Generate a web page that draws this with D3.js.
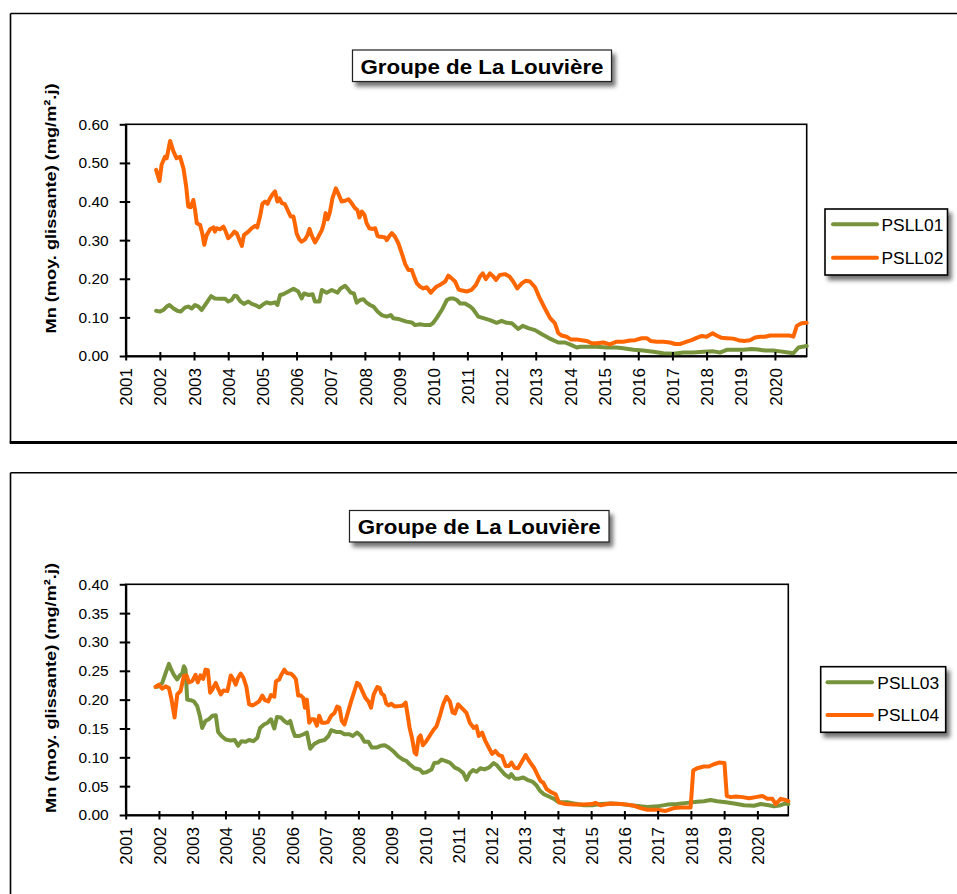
<!DOCTYPE html>
<html><head><meta charset="utf-8">
<script src="https://cdn.jsdelivr.net/npm/d3@7/dist/d3.min.js"></script>
<style>
body{margin:0;background:#fff}
svg{display:block}
text{font-family:"Liberation Sans",Arial,Helvetica,sans-serif;fill:#000}
</style>
</head><body>
<svg id="c" width="957" height="894"></svg>
<script>
// ---------------- DATA ----------------
const titleText = "Groupe de La Louvière";
const yLabelText = "Mn  (moy. glissante) (mg/m².j)";
const yearTicks = d3.range(2001, 2021);
const xEnd = 2020.93;
const topYTicks = [0, 0.1, 0.2, 0.3, 0.4, 0.5, 0.6];
const bottomYTicks = [0, 0.05, 0.1, 0.15, 0.2, 0.25, 0.3, 0.35, 0.4];
const topSeriesNames = ["PSLL01", "PSLL02"];
const bottomSeriesNames = ["PSLL03", "PSLL04"];

const psll01 = [[2001.89,0.117],[2002.00,0.115],[2002.10,0.119],[2002.20,0.128],[2002.28,0.132],[2002.40,0.123],[2002.51,0.117],[2002.61,0.115],[2002.74,0.126],[2002.83,0.128],[2002.93,0.123],[2003.03,0.132],[2003.13,0.128],[2003.22,0.119],[2003.32,0.132],[2003.42,0.145],[2003.50,0.155],[2003.61,0.149],[2003.76,0.148],[2003.91,0.148],[2004.00,0.141],[2004.10,0.145],[2004.18,0.156],[2004.25,0.155],[2004.35,0.142],[2004.46,0.135],[2004.59,0.141],[2004.69,0.135],[2004.79,0.132],[2004.91,0.126],[2005.03,0.134],[2005.13,0.139],[2005.24,0.136],[2005.37,0.139],[2005.44,0.132],[2005.52,0.158],[2005.61,0.160],[2005.76,0.167],[2005.91,0.174],[2006.05,0.167],[2006.15,0.149],[2006.22,0.162],[2006.35,0.158],[2006.47,0.160],[2006.54,0.141],[2006.67,0.141],[2006.74,0.171],[2006.88,0.164],[2007.03,0.171],[2007.20,0.164],[2007.29,0.175],[2007.42,0.182],[2007.49,0.175],[2007.59,0.164],[2007.68,0.162],[2007.76,0.138],[2007.86,0.145],[2007.96,0.147],[2008.05,0.138],[2008.15,0.132],[2008.25,0.128],[2008.37,0.115],[2008.49,0.106],[2008.64,0.102],[2008.76,0.106],[2008.83,0.098],[2008.98,0.096],[2009.08,0.093],[2009.22,0.089],[2009.37,0.087],[2009.47,0.080],[2009.61,0.082],[2009.76,0.080],[2009.91,0.080],[2010.00,0.086],[2010.10,0.098],[2010.25,0.119],[2010.40,0.145],[2010.49,0.149],[2010.59,0.149],[2010.69,0.145],[2010.79,0.136],[2010.93,0.136],[2011.08,0.128],[2011.17,0.121],[2011.32,0.102],[2011.47,0.098],[2011.66,0.093],[2011.86,0.086],[2012.00,0.091],[2012.15,0.086],[2012.30,0.085],[2012.49,0.070],[2012.62,0.078],[2012.78,0.072],[2012.98,0.067],[2013.17,0.057],[2013.37,0.047],[2013.51,0.041],[2013.66,0.035],[2013.86,0.035],[2014.05,0.028],[2014.20,0.022],[2014.30,0.024],[2014.49,0.024],[2014.78,0.024],[2015.08,0.022],[2015.37,0.022],[2015.56,0.020],[2015.86,0.016],[2016.15,0.014],[2016.44,0.011],[2016.73,0.007],[2017.03,0.006],[2017.32,0.009],[2017.61,0.009],[2017.91,0.011],[2018.20,0.012],[2018.39,0.009],[2018.59,0.016],[2018.78,0.016],[2019.08,0.016],[2019.32,0.018],[2019.51,0.017],[2019.71,0.014],[2019.95,0.014],[2020.15,0.012],[2020.39,0.009],[2020.54,0.007],[2020.69,0.022],[2020.93,0.026]];

const psll02 = [[2001.89,0.482],[2001.99,0.453],[2002.05,0.495],[2002.15,0.516],[2002.20,0.512],[2002.30,0.557],[2002.40,0.529],[2002.49,0.512],[2002.59,0.516],[2002.69,0.486],[2002.77,0.439],[2002.83,0.387],[2002.90,0.385],[2002.98,0.404],[2003.03,0.378],[2003.08,0.344],[2003.18,0.339],[2003.24,0.318],[2003.30,0.288],[2003.37,0.313],[2003.47,0.328],[2003.57,0.333],[2003.61,0.322],[2003.66,0.331],[2003.76,0.328],[2003.86,0.335],[2003.91,0.326],[2004.00,0.305],[2004.10,0.313],[2004.18,0.322],[2004.25,0.318],[2004.33,0.300],[2004.40,0.285],[2004.46,0.313],[2004.59,0.322],[2004.69,0.331],[2004.79,0.337],[2004.85,0.333],[2004.93,0.361],[2005.00,0.394],[2005.08,0.400],[2005.15,0.394],[2005.22,0.408],[2005.32,0.421],[2005.37,0.426],[2005.44,0.400],[2005.50,0.408],[2005.57,0.396],[2005.66,0.393],[2005.76,0.374],[2005.83,0.361],[2005.91,0.361],[2005.96,0.339],[2006.00,0.318],[2006.08,0.302],[2006.15,0.296],[2006.25,0.302],[2006.32,0.313],[2006.38,0.329],[2006.44,0.313],[2006.54,0.294],[2006.64,0.309],[2006.74,0.326],[2006.80,0.344],[2006.85,0.370],[2006.91,0.354],[2006.98,0.374],[2007.05,0.408],[2007.15,0.434],[2007.22,0.421],[2007.32,0.400],[2007.42,0.402],[2007.52,0.406],[2007.61,0.396],[2007.71,0.383],[2007.78,0.378],[2007.84,0.359],[2007.91,0.374],[2007.99,0.365],[2008.05,0.344],[2008.13,0.331],[2008.23,0.329],[2008.30,0.331],[2008.37,0.311],[2008.42,0.309],[2008.49,0.309],[2008.59,0.307],[2008.64,0.300],[2008.72,0.311],[2008.79,0.318],[2008.88,0.309],[2008.98,0.292],[2009.08,0.266],[2009.18,0.238],[2009.27,0.223],[2009.37,0.223],[2009.44,0.206],[2009.52,0.188],[2009.61,0.180],[2009.71,0.175],[2009.81,0.178],[2009.93,0.164],[2010.00,0.171],[2010.10,0.180],[2010.20,0.184],[2010.35,0.193],[2010.44,0.208],[2010.54,0.201],[2010.64,0.193],[2010.74,0.173],[2010.78,0.171],[2010.98,0.167],[2011.12,0.171],[2011.25,0.184],[2011.37,0.206],[2011.45,0.214],[2011.54,0.199],[2011.66,0.214],[2011.76,0.206],[2011.84,0.197],[2011.95,0.210],[2012.10,0.212],[2012.23,0.206],[2012.34,0.193],[2012.46,0.175],[2012.59,0.188],[2012.71,0.195],[2012.83,0.193],[2012.98,0.178],[2013.12,0.149],[2013.27,0.123],[2013.42,0.098],[2013.56,0.085],[2013.66,0.059],[2013.76,0.053],[2013.90,0.050],[2014.02,0.043],[2014.20,0.043],[2014.34,0.041],[2014.49,0.039],[2014.64,0.033],[2014.78,0.033],[2014.98,0.035],[2015.17,0.030],[2015.37,0.037],[2015.56,0.037],[2015.76,0.040],[2015.91,0.041],[2016.10,0.046],[2016.25,0.046],[2016.36,0.039],[2016.54,0.037],[2016.73,0.037],[2016.93,0.035],[2017.08,0.031],[2017.22,0.031],[2017.42,0.037],[2017.56,0.041],[2017.71,0.047],[2017.86,0.052],[2018.00,0.050],[2018.18,0.059],[2018.29,0.053],[2018.44,0.047],[2018.59,0.046],[2018.78,0.045],[2018.93,0.041],[2019.10,0.039],[2019.27,0.041],[2019.42,0.048],[2019.56,0.050],[2019.71,0.050],[2019.86,0.053],[2020.05,0.053],[2020.25,0.053],[2020.44,0.053],[2020.54,0.050],[2020.64,0.078],[2020.78,0.085],[2020.93,0.086]];

const psll03 = [[2001.90,0.222],[2002.00,0.223],[2002.10,0.229],[2002.20,0.246],[2002.30,0.262],[2002.37,0.252],[2002.45,0.243],[2002.55,0.235],[2002.63,0.242],[2002.70,0.245],[2002.75,0.258],[2002.80,0.252],[2002.85,0.200],[2002.95,0.199],[2003.05,0.197],[2003.15,0.189],[2003.23,0.172],[2003.30,0.151],[2003.40,0.163],[2003.50,0.166],[2003.61,0.172],[2003.71,0.173],[2003.78,0.144],[2003.88,0.137],[2004.01,0.131],[2004.16,0.129],[2004.28,0.130],[2004.38,0.120],[2004.48,0.128],[2004.61,0.127],[2004.71,0.130],[2004.84,0.128],[2004.96,0.134],[2005.04,0.151],[2005.16,0.157],[2005.27,0.160],[2005.37,0.166],[2005.47,0.150],[2005.55,0.170],[2005.67,0.169],[2005.77,0.163],[2005.87,0.159],[2005.95,0.163],[2006.02,0.148],[2006.09,0.137],[2006.22,0.137],[2006.35,0.140],[2006.45,0.143],[2006.55,0.115],[2006.67,0.123],[2006.82,0.128],[2006.98,0.130],[2007.10,0.137],[2007.18,0.147],[2007.33,0.144],[2007.46,0.144],[2007.58,0.140],[2007.73,0.140],[2007.83,0.137],[2007.96,0.143],[2008.08,0.137],[2008.18,0.127],[2008.30,0.127],[2008.40,0.117],[2008.54,0.117],[2008.67,0.120],[2008.79,0.121],[2008.91,0.117],[2009.04,0.111],[2009.19,0.102],[2009.34,0.096],[2009.44,0.094],[2009.54,0.088],[2009.69,0.081],[2009.84,0.079],[2009.94,0.073],[2010.04,0.074],[2010.20,0.079],[2010.28,0.090],[2010.40,0.091],[2010.50,0.096],[2010.65,0.093],[2010.75,0.091],[2010.90,0.082],[2011.02,0.079],[2011.15,0.073],[2011.25,0.061],[2011.35,0.073],[2011.45,0.078],[2011.55,0.075],[2011.67,0.081],[2011.79,0.079],[2011.92,0.082],[2012.07,0.090],[2012.17,0.086],[2012.27,0.079],[2012.39,0.071],[2012.53,0.065],[2012.60,0.071],[2012.70,0.063],[2012.83,0.063],[2012.96,0.065],[2013.08,0.061],[2013.23,0.058],[2013.36,0.051],[2013.46,0.042],[2013.58,0.036],[2013.73,0.032],[2013.88,0.028],[2014.03,0.022],[2014.28,0.022],[2014.48,0.020],[2014.78,0.017],[2015.03,0.017],[2015.28,0.019],[2015.58,0.020],[2015.89,0.019],[2016.19,0.017],[2016.49,0.015],[2016.69,0.014],[2016.99,0.015],[2017.29,0.018],[2017.59,0.019],[2017.89,0.021],[2018.19,0.023],[2018.39,0.024],[2018.59,0.026],[2018.79,0.024],[2019.05,0.022],[2019.30,0.020],[2019.60,0.017],[2019.90,0.016],[2020.10,0.019],[2020.35,0.017],[2020.50,0.015],[2020.70,0.017],[2020.85,0.020],[2020.93,0.019]];

const psll04 = [[2001.90,0.222],[2002.00,0.226],[2002.10,0.219],[2002.20,0.223],[2002.30,0.220],[2002.37,0.203],[2002.47,0.169],[2002.55,0.209],[2002.65,0.215],[2002.75,0.241],[2002.83,0.242],[2002.90,0.230],[2003.00,0.232],[2003.10,0.243],[2003.17,0.230],[2003.25,0.242],[2003.33,0.236],[2003.40,0.252],[2003.47,0.251],[2003.54,0.212],[2003.61,0.218],[2003.71,0.229],[2003.78,0.219],[2003.86,0.209],[2003.94,0.216],[2004.06,0.215],[2004.16,0.242],[2004.24,0.235],[2004.31,0.226],[2004.38,0.238],[2004.46,0.245],[2004.54,0.238],[2004.63,0.222],[2004.71,0.192],[2004.81,0.190],[2004.91,0.193],[2005.01,0.197],[2005.11,0.207],[2005.19,0.199],[2005.29,0.197],[2005.37,0.208],[2005.47,0.205],[2005.52,0.232],[2005.62,0.235],[2005.67,0.242],[2005.77,0.252],[2005.85,0.246],[2005.97,0.245],[2006.05,0.241],[2006.12,0.235],[2006.19,0.207],[2006.27,0.207],[2006.34,0.203],[2006.39,0.186],[2006.45,0.200],[2006.52,0.160],[2006.59,0.166],[2006.67,0.166],[2006.75,0.155],[2006.82,0.172],[2006.90,0.160],[2007.00,0.160],[2007.08,0.161],[2007.18,0.172],[2007.28,0.177],[2007.36,0.188],[2007.43,0.186],[2007.50,0.163],[2007.58,0.157],[2007.68,0.177],[2007.78,0.197],[2007.88,0.215],[2007.96,0.229],[2008.03,0.226],[2008.13,0.213],[2008.21,0.203],[2008.30,0.197],[2008.38,0.186],[2008.46,0.209],[2008.57,0.222],[2008.64,0.220],[2008.69,0.211],[2008.77,0.207],[2008.84,0.193],[2008.91,0.190],[2008.99,0.193],[2009.09,0.188],[2009.24,0.189],[2009.34,0.190],[2009.42,0.195],[2009.47,0.177],[2009.54,0.151],[2009.61,0.134],[2009.69,0.108],[2009.74,0.105],[2009.81,0.134],[2009.87,0.138],[2009.94,0.121],[2010.04,0.128],[2010.14,0.137],[2010.25,0.147],[2010.35,0.154],[2010.45,0.172],[2010.55,0.192],[2010.65,0.205],[2010.75,0.197],[2010.83,0.178],[2010.90,0.176],[2011.00,0.192],[2011.15,0.183],[2011.25,0.177],[2011.35,0.160],[2011.47,0.151],[2011.55,0.154],[2011.62,0.137],[2011.72,0.143],[2011.82,0.128],[2011.92,0.117],[2012.02,0.106],[2012.12,0.111],[2012.22,0.104],[2012.32,0.102],[2012.43,0.085],[2012.53,0.085],[2012.60,0.091],[2012.70,0.082],[2012.80,0.081],[2012.93,0.094],[2013.03,0.104],[2013.13,0.094],[2013.28,0.082],[2013.40,0.068],[2013.48,0.059],[2013.56,0.056],[2013.66,0.045],[2013.78,0.040],[2013.93,0.036],[2014.03,0.022],[2014.23,0.019],[2014.48,0.018],[2014.78,0.018],[2015.03,0.019],[2015.13,0.021],[2015.28,0.017],[2015.58,0.020],[2015.89,0.019],[2016.09,0.018],[2016.29,0.016],[2016.49,0.012],[2016.69,0.009],[2016.99,0.009],[2017.24,0.007],[2017.49,0.012],[2017.69,0.013],[2017.99,0.013],[2018.01,0.028],[2018.07,0.077],[2018.19,0.081],[2018.39,0.084],[2018.54,0.084],[2018.69,0.088],[2018.84,0.091],[2019.01,0.090],[2019.08,0.033],[2019.20,0.031],[2019.35,0.032],[2019.55,0.031],[2019.75,0.029],[2019.95,0.031],[2020.15,0.033],[2020.30,0.028],[2020.45,0.028],[2020.55,0.019],[2020.70,0.028],[2020.85,0.026],[2020.93,0.024]];

const GREEN = "#77933C", ORANGE = "#FF6600";

// ---------------- DRAW ----------------
const svg = d3.select("#c");
const defs = svg.append("defs");
const f = defs.append("filter").attr("id","shadow").attr("x","-20%").attr("y","-20%").attr("width","150%").attr("height","180%");
f.append("feDropShadow").attr("dx",3.5).attr("dy",4.5).attr("stdDeviation",2.2).attr("flood-color","#000").attr("flood-opacity",0.55);

function drawChart(cfg) {
  const g = svg.append("g");
  // outer frame
  g.append("line").attr("x1",cfg.frame.x).attr("x2",957).attr("y1",cfg.frame.y).attr("y2",cfg.frame.y).attr("stroke","#000").attr("stroke-width",1.6);
  g.append("line").attr("x1",cfg.frame.x).attr("x2",cfg.frame.x).attr("y1",cfg.frame.y).attr("y2",cfg.frame.bottom || 894).attr("stroke","#000").attr("stroke-width",1.6);
  if (cfg.frame.bottom) {
    g.append("line").attr("x1",cfg.frame.x-0.8).attr("x2",957).attr("y1",cfg.frame.bottom).attr("y2",cfg.frame.bottom).attr("stroke","#000").attr("stroke-width",3);
  }

  const p = cfg.plot;
  const x = d3.scaleLinear().domain([2001, xEnd]).range([p.l, p.r]);
  const y = d3.scaleLinear().domain([0, cfg.yMax]).range([p.b, p.t]);

  // plot border (top/right)
  g.append("rect").attr("x",p.l).attr("y",p.t).attr("width",p.r-p.l).attr("height",p.b-p.t)
    .attr("fill","#fff").attr("stroke","#000").attr("stroke-width",1.6);

  // series
  const line = d3.line().x(d => x(d[0])).y(d => y(d[1]));
  cfg.series.forEach(s => {
    g.append("path").datum(s.data).attr("d", line).attr("fill","none")
      .attr("stroke", s.color).attr("stroke-width",4).attr("stroke-linejoin","round").attr("stroke-linecap","round");
  });

  // y axis
  const ya = g.append("g").attr("transform",`translate(${p.l},0)`)
    .call(d3.axisLeft(y).tickValues(cfg.yTicks).tickFormat(d3.format(".2f")).tickSizeInner(6).tickSizeOuter(0).tickPadding(11));
  ya.select(".domain").attr("stroke","#000").attr("stroke-width",2.2);
  ya.selectAll(".tick line").attr("stroke","#000").attr("stroke-width",2);
  ya.selectAll(".tick").filter(d => d > 0 && d < cfg.yMax).append("line").attr("x1",0).attr("x2",4.5).attr("stroke","#000").attr("stroke-width",2);
  ya.selectAll(".tick text").attr("font-size","15.5px").attr("font-family",'"Liberation Sans",Arial,sans-serif').attr("fill","#000");

  // x axis
  const xa = g.append("g").attr("transform",`translate(0,${p.b})`)
    .call(d3.axisBottom(x).tickValues(yearTicks).tickFormat(d => String(d)).tickSizeInner(4.5).tickSizeOuter(0));
  xa.select(".domain").attr("stroke","#000").attr("stroke-width",2.2);
  xa.selectAll(".tick line").attr("stroke","#000").attr("stroke-width",2);
  xa.selectAll(".tick").append("line").attr("y1",0).attr("y2",-4).attr("stroke","#000").attr("stroke-width",2);
  xa.selectAll(".tick text").attr("transform","rotate(-90)").attr("x",-12).attr("y",0).attr("dy","0.36em")
    .attr("text-anchor","end").attr("font-size","17px").attr("font-family",'"Liberation Sans",Arial,sans-serif').attr("fill","#000");

  // y label
  g.append("text").attr("transform",`translate(${cfg.yLabel.x},${cfg.yLabel.cy}) rotate(-90)`)
    .attr("text-anchor","middle").attr("font-weight","bold").attr("font-size","15.5px")
    .attr("textLength", cfg.yLabel.len).attr("lengthAdjust","spacingAndGlyphs").text(yLabelText);

  // title
  const t = cfg.title;
  g.append("rect").attr("x",t.x).attr("y",t.y).attr("width",t.w).attr("height",t.h)
    .attr("fill","#fff").attr("stroke","#222").attr("stroke-width",1.2).attr("filter","url(#shadow)");
  g.append("text").attr("x",t.x + t.w/2).attr("y",t.y + 23.8).attr("text-anchor","middle")
    .attr("font-weight","bold").attr("font-size","19.5px").attr("textLength",243).attr("lengthAdjust","spacingAndGlyphs").text(titleText);

  // legend
  const L = cfg.legend;
  g.append("rect").attr("x",L.x).attr("y",L.y).attr("width",L.w).attr("height",L.h)
    .attr("fill","#fff").attr("stroke","#000").attr("stroke-width",1.6).attr("filter","url(#shadow)");
  cfg.series.forEach((s, i) => {
    const ly = L.rows[i];
    g.append("line").attr("x1",L.x1).attr("x2",L.x2).attr("y1",ly).attr("y2",ly)
      .attr("stroke",s.color).attr("stroke-width",4).attr("stroke-linecap","round");
    g.append("text").attr("x",L.tx).attr("y",ly + 6.2).attr("font-size","17.4px").text(s.name);
  });
}

drawChart({
  frame: {x: 10.5, y: 13.5, bottom: 442.5},
  plot: {l: 125.7, t: 124.3, r: 806.7, b: 356},
  yMax: 0.6, yTicks: topYTicks,
  series: [{name: topSeriesNames[0], data: psll01, color: GREEN}, {name: topSeriesNames[1], data: psll02, color: ORANGE}],
  yLabel: {x: 55.5, cy: 208.5, len: 250},
  title: {x: 352.5, y: 50, w: 259, h: 31.5},
  legend: {x: 825, y: 209, w: 122.5, h: 66, rows: [224.3, 257.7], x1: 833, x2: 877, tx: 881.5}
});

drawChart({
  frame: {x: 10.5, y: 472.7, bottom: null},
  plot: {l: 125.7, t: 584.3, r: 788.3, b: 815},
  yMax: 0.4, yTicks: bottomYTicks,
  series: [{name: bottomSeriesNames[0], data: psll03, color: GREEN}, {name: bottomSeriesNames[1], data: psll04, color: ORANGE}],
  yLabel: {x: 55.5, cy: 688, len: 250},
  title: {x: 349.5, y: 510.5, w: 259.5, h: 31.5},
  legend: {x: 820.7, y: 666.7, w: 125, h: 65.6, rows: [682.3, 715], x1: 827.5, x2: 872, tx: 877.3}
});
</script>
</body></html>
